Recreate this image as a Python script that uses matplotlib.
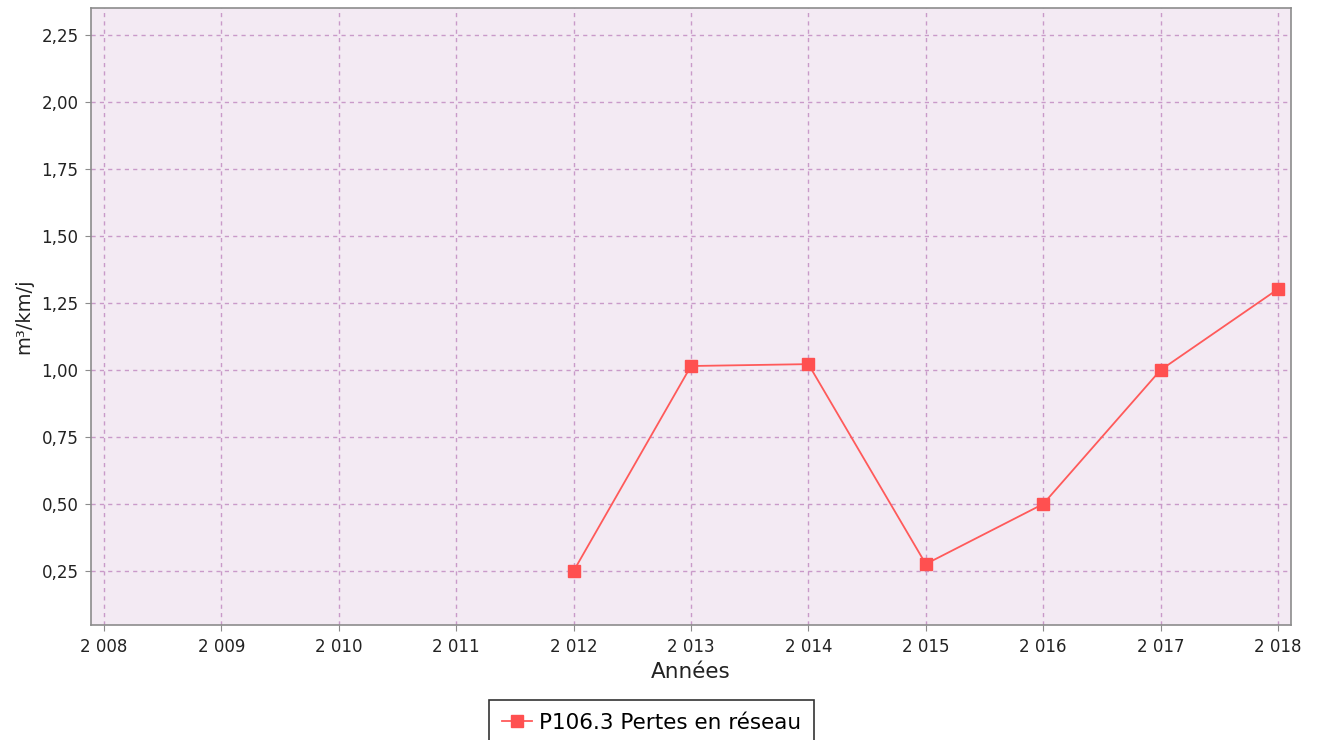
import matplotlib
matplotlib.use("Agg")
import matplotlib.pyplot as plt
from matplotlib.ticker import FuncFormatter

# data
annees = [2012, 2013, 2014, 2015, 2016, 2017, 2018]
pertes = [0.25, 1.015, 1.022, 0.276, 0.50, 1.00, 1.302]
serie_label = "P106.3 Pertes en réseau"
x_ticks = list(range(2008, 2019))
y_ticks = [0.25, 0.50, 0.75, 1.00, 1.25, 1.50, 1.75, 2.00, 2.25]

plt.rcParams['font.family'] = ['DejaVu Sans']

fig = plt.figure(figsize=(13.19, 7.40), dpi=100)
ax = fig.add_axes([91 / 1319, 1 - 625 / 740, 1200 / 1319, 617 / 740])
ax.set_facecolor('#f3eaf3')

ax.plot(annees, pertes, color='#ff5a5a', linewidth=1.3, marker='s',
        markersize=8, markerfacecolor='#ff5050', markeredgecolor='#ff5050',
        label=serie_label, zorder=3)

ax.set_xlim(2007.889, 2018.111)
ax.set_ylim(0.0485, 2.351)
ax.set_xticks(x_ticks)
ax.set_yticks(y_ticks)
ax.xaxis.set_major_formatter(FuncFormatter(lambda v, p: f"{int(v):,}".replace(',', ' ')))
ax.yaxis.set_major_formatter(FuncFormatter(lambda v, p: f"{v:.2f}".replace('.', ',')))

ax.grid(True, color='#c99ac9', linestyle=(0, (3, 3)), linewidth=1.0)
ax.set_axisbelow(True)
for s in ax.spines.values():
    s.set_color('#8c8c8c')
    s.set_linewidth(1.2)
ax.tick_params(direction='out', length=4, color='#8c8c8c', labelsize=12,
               labelcolor='#222222', pad=5)

ax.set_xlabel("Années", fontsize=15.5, color='#222222', labelpad=5)
ax.set_ylabel("m³/km/j", fontsize=14, color='#222222', labelpad=6)

leg = fig.legend(loc='upper center', bbox_to_anchor=(0.494, 1 - 700 / 740), fontsize=15.5,
                 frameon=True, fancybox=False, handlelength=1.4,
                 handletextpad=0.3, borderpad=0.6, borderaxespad=0)
leg.get_frame().set_edgecolor('#000000')
leg.get_frame().set_linewidth(1.2)

fig.savefig("out.png", dpi=100)
